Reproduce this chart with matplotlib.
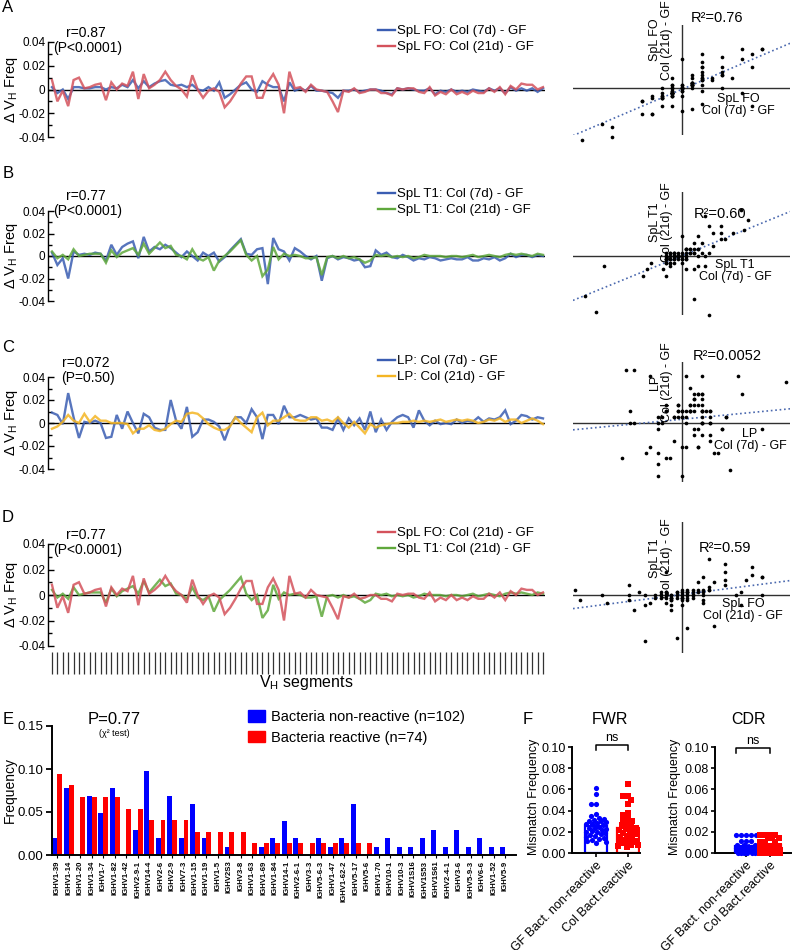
import numpy as np
import matplotlib
matplotlib.use("Agg")
import matplotlib.pyplot as plt
from matplotlib.lines import Line2D
from matplotlib.patches import Patch

plt.rcParams['font.family'] = ['Liberation Sans', 'DejaVu Sans']
plt.rcParams['mathtext.default'] = 'regular'

# ---------------- data: delta VH frequencies (per VH segment) ----------------
fo_7d = [0.002, -0.003, 0.000, -0.008, 0.002, 0.002, 0.001, 0.001, 0.002, 0.002,
         0.000, 0.002, 0.001, 0.004, 0.002, 0.008, 0.001, 0.007, 0.002, 0.005,
         0.007, 0.008, 0.004, 0.003, 0.004, 0.002, 0.004, 0.000, -0.001, 0.002,
         -0.001, 0.006, -0.007, -0.004, 0.000, 0.004, 0.006, 0.000, -0.002, 0.007,
         0.004, 0.002, 0.002, -0.010, 0.006, -0.001, 0.001, -0.001, 0.003, -0.001,
         -0.001, -0.002, -0.003, -0.007, -0.001, -0.001, 0.000, -0.002, -0.001, 0.000,
         0.000, -0.001, -0.003, -0.004, 0.001, 0.000, 0.001, 0.000, -0.001, -0.001,
         0.001, -0.004, -0.001, -0.002, 0.000, -0.002, -0.001, -0.002, 0.000, -0.001,
         -0.002, 0.001, -0.001, 0.001, -0.003, 0.002, -0.001, 0.001, -0.001, 0.001,
         -0.002, 0.001]
fo_21d = [0.008, -0.010, -0.001, -0.014, 0.008, 0.010, 0.001, 0.002, 0.004, 0.005,
          -0.009, 0.006, 0.000, 0.005, 0.003, 0.015, -0.008, 0.013, 0.001, 0.004,
          0.008, 0.015, 0.008, 0.003, 0.000, -0.006, 0.012, 0.000, -0.007, -0.001,
          0.001, -0.002, -0.015, -0.010, -0.003, 0.005, 0.011, 0.011, -0.007, -0.007,
          0.006, 0.013, 0.004, -0.020, 0.015, 0.001, 0.002, -0.002, 0.004, 0.000,
          -0.001, -0.002, -0.010, -0.019, -0.001, -0.002, 0.001, -0.003, -0.002, 0.000,
          0.000, -0.003, -0.003, -0.005, 0.001, 0.000, 0.001, 0.001, -0.002, -0.003,
          0.002, -0.005, -0.002, -0.004, 0.000, -0.004, -0.002, -0.004, -0.001, -0.003,
          -0.003, 0.001, -0.002, 0.002, -0.004, 0.003, 0.000, 0.005, 0.004, 0.004,
          0.000, 0.002]
t1_7d = [0.003, -0.008, -0.002, -0.020, 0.004, 0.001, 0.002, 0.001, 0.003, 0.002,
         -0.004, 0.010, 0.001, 0.008, 0.011, 0.013, -0.002, 0.017, 0.004, 0.008,
         0.006, 0.010, 0.007, 0.003, -0.001, 0.004, 0.000, -0.004, 0.003, 0.000,
         0.003, -0.005, -0.001, 0.005, 0.010, 0.015, 0.002, 0.001, 0.006, 0.007,
         -0.025, 0.016, 0.006, 0.004, -0.004, 0.007, 0.004, 0.000, -0.003, 0.000,
         -0.022, -0.002, 0.000, -0.003, -0.001, -0.002, -0.004, -0.003, -0.010, -0.009,
         0.005, 0.001, 0.003, -0.001, -0.002, 0.001, -0.001, -0.004, -0.002, -0.003,
         -0.001, -0.002, -0.004, -0.003, -0.002, -0.003, -0.003, -0.001, -0.004, -0.004,
         -0.002, -0.003, -0.001, -0.004, -0.002, 0.002, -0.001, 0.001, 0.001, -0.001,
         0.001, 0.000]
t1_21d = [0.004, -0.002, 0.001, -0.003, 0.006, 0.000, 0.001, 0.002, 0.002, 0.002,
          -0.006, 0.005, -0.001, 0.003, 0.005, 0.007, 0.001, 0.011, 0.002, 0.007,
          0.012, 0.007, 0.009, 0.001, 0.000, -0.003, 0.006, -0.002, -0.004, -0.001,
          -0.013, -0.004, 0.000, 0.004, 0.009, 0.014, 0.001, -0.004, 0.000, -0.018,
          -0.012, 0.008, -0.003, 0.002, 0.000, 0.001, 0.000, -0.002, -0.002, -0.001,
          -0.017, -0.001, 0.000, -0.002, 0.000, -0.002, -0.001, -0.003, -0.006, -0.004,
          0.001, 0.000, 0.001, -0.001, 0.000, -0.001, 0.000, -0.002, -0.001, 0.001,
          0.000, 0.000, 0.000, -0.001, 0.000, 0.000, -0.001, 0.000, 0.001, -0.001,
          0.000, 0.001, 0.000, -0.001, 0.001, 0.002, 0.001, 0.002, 0.001, 0.000,
          0.002, 0.001]
lp_7d = [0.009, 0.007, -0.001, 0.026, 0.005, -0.013, 0.001, 0.000, 0.002, 0.000,
         -0.013, -0.012, 0.007, -0.005, 0.010, 0.000, -0.009, 0.008, 0.005, -0.004,
         -0.006, -0.006, 0.020, 0.002, -0.005, 0.014, -0.012, -0.008, 0.003, 0.003,
         0.001, -0.003, -0.015, -0.002, 0.005, 0.005, 0.000, 0.012, 0.005, -0.014,
         0.007, 0.007, -0.001, 0.015, 0.005, 0.005, 0.007, 0.005, 0.003, 0.004,
         -0.004, -0.004, -0.006, 0.004, -0.006, 0.004, -0.002, 0.004, -0.006, 0.010,
         -0.008, 0.003, -0.006, 0.001, 0.005, 0.007, 0.005, -0.004, 0.011, 0.002,
         -0.002, 0.002, -0.001, 0.000, -0.001, 0.003, 0.000, 0.002, 0.001, 0.005,
         0.001, 0.004, 0.003, 0.005, 0.011, -0.001, 0.002, 0.007, 0.006, 0.003,
         0.005, 0.004]
lp_21d = [-0.005, -0.003, 0.001, 0.007, 0.002, 0.000, 0.008, 0.001, 0.006, 0.002,
          0.002, 0.000, 0.000, 0.000, -0.001, -0.009, -0.005, -0.005, -0.002, -0.006,
          -0.007, -0.005, -0.001, 0.002, 0.001, 0.008, 0.009, 0.008, 0.004, -0.001,
          -0.004, -0.006, -0.006, -0.003, 0.005, 0.000, -0.004, -0.008, 0.005, 0.009,
          -0.002, 0.002, 0.002, 0.005, 0.008, 0.003, 0.002, 0.002, 0.005, 0.005,
          0.002, 0.003, 0.001, 0.005, 0.000, -0.004, 0.001, -0.004, -0.009, -0.001,
          -0.004, -0.002, -0.001, 0.000, 0.000, 0.001, 0.001, 0.002, 0.001, 0.002,
          0.001, 0.002, 0.003, 0.001, 0.002, 0.003, 0.002, 0.003, 0.002, 0.000,
          0.001, 0.003, 0.002, 0.004, 0.001, 0.003, 0.003, 0.000, 0.002, 0.004,
          0.002, -0.001]

# ---------------- data: panel E ----------------
genes = ['IGHV1-39', 'IGHV1-14', 'IGHV1-20', 'IGHV1-34', 'IGHV1-7', 'IGHV1-82', 'IGHV1-42',
         'IGHV2-9-1', 'IGHV14-4', 'IGHV2-6', 'IGHV2-9', 'IGHV7-3', 'IGHV1-15', 'IGHV1-19',
         'IGHV1-5', 'IGHV2S3', 'IGHV3-8', 'IGHV1-63', 'IGHV1-69', 'IGHV1-84', 'IGHV14-1',
         'IGHV2-6-1', 'IGHV3-3', 'IGHV5-6-3', 'IGHV1-47', 'IGHV1-62-2', 'IGHV5-17', 'IGHV5-6',
         'IGHV1-70', 'IGHV10-1', 'IGHV10-3', 'IGHV1S16', 'IGHV1S53', 'IGHV1S61', 'IGHV2-4-1',
         'IGHV3-6', 'IGHV5-9-3', 'IGHV6-6', 'IGHV1-52', 'IGHV5-9']
count_nonreactive = [2, 8, 0, 7, 5, 8, 0, 3, 10, 2, 7, 2, 6, 2, 0, 1, 0, 0, 1, 2,
                     4, 2, 0, 2, 1, 2, 6, 0, 1, 2, 1, 1, 2, 3, 1, 3, 1, 2, 1, 1]
count_reactive = [7, 6, 5, 5, 5, 5, 4, 4, 3, 3, 3, 3, 2, 2, 2, 2, 2, 1, 1, 1,
                  1, 1, 1, 1, 1, 1, 1, 1, 0, 0, 0, 0, 0, 0, 0, 0, 0, 0, 0, 0]
n_nonreactive = 102
n_reactive = 74

# ---------------- data: panel F ----------------
fwr_gf_nonreactive = [0.061, 0.056, 0.046, 0.046, 0.037, 0.035, 0.033, 0.032, 0.031, 0.030,
                      0.030, 0.029, 0.028, 0.027, 0.027, 0.026, 0.025, 0.024, 0.024, 0.023,
                      0.022, 0.021, 0.020, 0.020, 0.019, 0.018, 0.017, 0.016, 0.015, 0.014,
                      0.013, 0.012, 0.011, 0.010, 0.009]
fwr_col_reactive = [0.065, 0.054, 0.054, 0.050, 0.046, 0.038, 0.036, 0.033, 0.031, 0.030,
                    0.028, 0.026, 0.025, 0.024, 0.023, 0.022, 0.020, 0.019, 0.018, 0.016,
                    0.015, 0.014, 0.012, 0.011, 0.010, 0.010, 0.010, 0.009, 0.009, 0.008,
                    0.008, 0.007, 0.006]
cdr_gf_nonreactive = [0.017, 0.017, 0.017, 0.017, 0.017, 0.011, 0.011, 0.011, 0.008, 0.008,
                      0.008, 0.006, 0.006, 0.006, 0.006, 0.005, 0.005, 0.005, 0.003, 0.003,
                      0.003, 0.003, 0.003, 0.002, 0.002, 0.002, 0.002, 0.000, 0.000, 0.000,
                      0.000, 0.000, 0.000]
cdr_col_reactive = [0.017, 0.017, 0.017, 0.017, 0.014, 0.014, 0.014, 0.010, 0.010, 0.010,
                    0.007, 0.007, 0.007, 0.005, 0.005, 0.005, 0.005, 0.003, 0.003, 0.003,
                    0.003, 0.000, 0.000, 0.000, 0.000, 0.000, 0.000]
f_groups = ['GF Bact. non-reactive', 'Col Bact.reactive']

# ---------------- figure helpers ----------------
W, H = 792, 950
fig = plt.figure(figsize=(W / 100, H / 100), dpi=100)


def add_ax(l, t, r, b):
    return fig.add_axes([l / W, 1 - b / H, (r - l) / W, (b - t) / H])


def ftext(x, y, s, **kw):
    kw.setdefault('ha', 'center')
    kw.setdefault('va', 'center')
    return fig.text(x / W, 1 - y / H, s, **kw)


BLUE = '#3A5DB2'
RED = '#D4525C'
GREEN = '#5FA83C'
YELLOW = '#F4B523'

# ---------------- line panels A-D ----------------
line_panels = [
    dict(letter='A', ly=8, top=42, bottom=137, s=[fo_7d, fo_21d], c=[BLUE, RED], z=[2, 3],
         labels=['SpL FO: Col (7d) - GF', 'SpL FO: Col (21d) - GF'],
         r='r=0.87', p='(P<0.0001)', ry=33, legy=25),
    dict(letter='B', ly=174, top=211, bottom=301, s=[t1_7d, t1_21d], c=[BLUE, GREEN], z=[2, 3],
         labels=['SpL T1: Col (7d) - GF', 'SpL T1: Col (21d) - GF'],
         r='r=0.77', p='(P<0.0001)', ry=196, legy=188),
    dict(letter='C', ly=348, top=377, bottom=469, s=[lp_7d, lp_21d], c=[BLUE, YELLOW], z=[2, 3],
         labels=['LP: Col (7d) - GF', 'LP: Col (21d) - GF'],
         r='r=0.072', p='(P=0.50)', ry=363, legy=355),
    dict(letter='D', ly=517, top=544, bottom=646, s=[fo_21d, t1_21d], c=[RED, GREEN], z=[3, 2],
         labels=['SpL FO: Col (21d) - GF', 'SpL T1: Col (21d) - GF'],
         r='r=0.77', p='(P<0.0001)', ry=535, legy=527),
]

n_seg = len(fo_7d)
xseg = np.arange(n_seg)
for k, P in enumerate(line_panels):
    ax = add_ax(48, P['top'], 545, P['bottom'])
    ax.axhline(0, color='black', lw=1.0, zorder=1)
    for s, c, z in zip(P['s'], P['c'], P['z']):
        ax.plot(xseg, s, color=c, lw=1.7, alpha=0.85, zorder=z, solid_joinstyle='miter')
    ax.set_xlim(-0.74, n_seg - 1 + 0.37)
    ax.set_ylim(-0.04, 0.04)
    ax.set_yticks([-0.04, -0.02, 0, 0.02, 0.04])
    ax.set_yticklabels(['-0.04', '-0.02', '0', '0.02', '0.04'])
    ax.set_yticks([-0.03, -0.01, 0.01, 0.03], minor=True)
    ax.tick_params(axis='y', which='major', direction='in', length=4, width=1,
                   labelsize=8.5, pad=2)
    ax.tick_params(axis='y', which='minor', direction='in', length=3, width=1)
    for sp in ['top', 'right']:
        ax.spines[sp].set_visible(False)
    ax.spines['left'].set_linewidth(1.0)
    if P['letter'] == 'D':
        ax.set_xticks(xseg)
        ax.tick_params(axis='x', direction='out', length=16, width=0.9,
                       color='#333333', labelbottom=False)
        ax.spines['bottom'].set_position(('outward', 4))
        ax.spines['bottom'].set_visible(False)
    else:
        ax.spines['bottom'].set_visible(False)
        ax.set_xticks([])
    handles = [Line2D([], [], color=c, lw=1.7) for c in P['c']]
    ax.legend(handles, P['labels'], loc='upper left',
              bbox_to_anchor=(378 / W, 1 - P['legy'] / H), bbox_transform=fig.transFigure,
              frameon=False, fontsize=9.5, handlelength=1.3, handletextpad=0.15,
              labelspacing=0.3, borderpad=0, borderaxespad=0)
    ftext(8, P['ly'], P['letter'], fontsize=12)
    ftext(86, P['ry'], P['r'], fontsize=10)
    ftext(88, P['ry'] + 15, P['p'], fontsize=10)
    ftext(11, (P['top'] + P['bottom']) / 2, 'Δ V$_H$ Freq', fontsize=10.5, rotation=90)

ftext(306, 682, 'V$_H$ segments', fontsize=11.5)

# ---------------- scatter panels ----------------
scatter_panels = [
    dict(xs=fo_7d, ys=fo_21d, top=25, bottom=135, zy=88, kx=10000, ky=2600,
         r2='R²=0.76', r2xy=(717, 18), ylab='SpL FO\nCol (21d) - GF', ylxy=(661, 40),
         xlab='SpL FO\nCol (7d) - GF', xlxy=(738, 105)),
    dict(xs=t1_7d, ys=t1_21d, top=192, bottom=315, zy=256, kx=3900, ky=3300,
         r2='R²=0.60', r2xy=(720, 214), ylab='SpL T1\nCol (21d) - GF', ylxy=(661, 222),
         xlab='SpL T1\nCol (7d) - GF', xlxy=(735, 271)),
    dict(xs=lp_7d, ys=lp_21d, top=362, bottom=482, zy=423, kx=4000, ky=5900,
         r2='R²=0.0052', r2xy=(727, 356), ylab='LP\nCol (21d) - GF', ylxy=(661, 382),
         xlab='LP\nCol (7d) - GF', xlxy=(750, 440)),
    dict(xs=fo_21d, ys=t1_21d, top=522, bottom=653, zy=595, kx=5350, ky=2550,
         r2='R²=0.59', r2xy=(725, 548), ylab='SpL T1\nCol (21d) - GF', ylxy=(661, 558),
         xlab='SpL FO\nCol (21d) - GF', xlxy=(743, 610)),
]
XL, XZ, XR = 573, 682, 790
for S in scatter_panels:
    ax = add_ax(XL, S['top'], XR, S['bottom'])
    xlim = (-(XZ - XL) / S['kx'], (XR - XZ) / S['kx'])
    ylim = (-(S['bottom'] - S['zy']) / S['ky'], (S['zy'] - S['top']) / S['ky'])
    ax.set_xlim(xlim)
    ax.set_ylim(ylim)
    ax.axis('off')
    ax.axhline(0, color='#303030', lw=1.0, zorder=1)
    ax.axvline(0, color='#303030', lw=1.0, zorder=1)
    xs = np.array(S['xs'])
    ys = np.array(S['ys'])
    slope, icpt = np.polyfit(xs, ys, 1)
    xx = np.array(xlim)
    ax.plot(xx, slope * xx + icpt, ls=':', color='#4A68AE', lw=1.2, zorder=2)
    ax.scatter(xs, ys, s=7, color='black', zorder=3, clip_on=False, linewidths=0)
    ftext(*S['r2xy'], S['r2'], fontsize=10.5)
    ftext(*S['ylxy'], S['ylab'], fontsize=9, rotation=90, multialignment='center',
          linespacing=1.1)
    ftext(*S['xlxy'], S['xlab'], fontsize=9, multialignment='center', linespacing=1.1)

# ---------------- panel E ----------------
axE = add_ax(52, 726, 516, 855)
freq_non = np.array(count_nonreactive) / n_nonreactive
freq_rea = np.array(count_reactive) / n_reactive
xg = np.arange(len(genes))
bw = 0.43
axE.bar(xg - bw / 2, freq_non, width=bw, color='#0000FF', linewidth=0)
axE.bar(xg + bw / 2, freq_rea, width=bw, color='#FF0000', linewidth=0)
axE.set_xlim(-0.45, 39.95)
axE.set_ylim(0, 0.15)
axE.set_yticks([0, 0.05, 0.10, 0.15])
axE.set_yticklabels(['0.00', '0.05', '0.10', '0.15'])
axE.set_xticks(xg)
axE.set_xticklabels(genes, rotation=90, fontsize=5.6, fontweight='bold')
axE.tick_params(axis='y', direction='out', length=4, width=1.3, labelsize=9.5, pad=2)
axE.tick_params(axis='x', direction='out', length=2, width=0.8, pad=2)
for sp in ['top', 'right']:
    axE.spines[sp].set_visible(False)
for sp in ['left', 'bottom']:
    axE.spines[sp].set_linewidth(1.4)
axE.legend([Patch(color='#0000FF'), Patch(color='#FF0000')],
           ['Bacteria non-reactive (n=102)', 'Bacteria reactive (n=74)'],
           loc='upper left', bbox_to_anchor=(248 / W, 1 - 710 / H),
           bbox_transform=fig.transFigure, frameon=False, fontsize=10.5,
           handlelength=1.15, handleheight=0.85, handletextpad=0.45,
           labelspacing=0.45, borderpad=0, borderaxespad=0)
ftext(8, 719, 'E', fontsize=12)
ftext(114, 719, 'P=0.77', fontsize=12)
ftext(114, 734, '(χ² test)', fontsize=6.5)
ftext(10, 790, 'Frequency', fontsize=10, rotation=90)

# ---------------- panel F ----------------
F_KY = 1060.0


def swarm_offsets(vals, kx, ky, diam=5.0, maxoff=10.0):
    pts, out = [], []
    cands = [0.0]
    step = 1.0
    while step <= maxoff:
        cands += [-step, step]
        step += 1.0
    for v in vals:
        yp = v * ky
        best, best_d = 0.0, -1.0
        for c in cands:
            d = min([np.hypot(c - px, yp - py) for px, py in pts] or [1e9])
            if d >= diam:
                best = c
                break
            if d > best_d:
                best, best_d = c, d
        pts.append((best, yp))
        out.append(best / kx)
    return np.array(out)


f_panels = [
    dict(title='FWR', l=572, r=640, c0=596, c1=628, vals=[fwr_gf_nonreactive, fwr_col_reactive],
         ylab_x=534, title_x=610, br=(0.0, 1.0), br_y=745, ns_y=738),
    dict(title='CDR', l=715, r=791, c0=746, c1=770, vals=[cdr_gf_nonreactive, cdr_col_reactive],
         ylab_x=675, title_x=748, br=(-0.4, 1.0), br_y=748, ns_y=741),
]
FT, FB = 747, 853
for Fp in f_panels:
    ax = add_ax(Fp['l'], FT, Fp['r'], FB)
    kx = Fp['c1'] - Fp['c0']
    ax.set_xlim(-(Fp['c0'] - Fp['l']) / kx, 1 + (Fp['r'] - Fp['c1']) / kx)
    ax.set_ylim(0, 0.10)
    bwid = 21.5 / kx
    for i, (vals, col, mk) in enumerate(zip(Fp['vals'], ['#0000FF', '#FF0000'], ['o', 's'])):
        v = np.array(vals)
        m = v.mean()
        sem = v.std(ddof=1) / np.sqrt(len(v))
        ax.bar(i, m, width=bwid, facecolor='white', edgecolor=col, linewidth=1.6, zorder=1)
        offs = swarm_offsets(v, kx, F_KY, diam=5.0, maxoff=10.0)
        ax.scatter(i + offs, v, s=14, marker=mk, color=col, zorder=3, linewidths=0,
                   clip_on=False)
        ax.errorbar(i, m, yerr=sem, color=col, capsize=3, lw=1.2, capthick=1.2, zorder=4)
    ax.set_yticks([0, 0.02, 0.04, 0.06, 0.08, 0.10])
    ax.set_yticklabels(['0.00', '0.02', '0.04', '0.06', '0.08', '0.10'])
    ax.set_xticks([0, 1])
    ax.set_xticklabels(f_groups, rotation=45, ha='right', va='top',
                       rotation_mode='anchor', fontsize=9)
    ax.tick_params(axis='y', direction='out', length=3, width=1.2, labelsize=9, pad=1.5)
    ax.tick_params(axis='x', direction='out', length=3, width=1.2, pad=2)
    for sp in ['top', 'right']:
        ax.spines[sp].set_visible(False)
    for sp in ['left', 'bottom']:
        ax.spines[sp].set_linewidth(1.4)
    # significance bracket
    by = (FB - Fp['br_y']) / F_KY
    bt = by - 5 / F_KY
    x0, x1 = Fp['br']
    ax.plot([x0, x0, x1, x1], [bt, by, by, bt], color='black', lw=1.1, clip_on=False)
    ax.text((x0 + x1) / 2, (FB - Fp['ns_y']) / F_KY, 'ns', ha='center', va='center',
            fontsize=9)
    ftext(Fp['title_x'], 720, Fp['title'], fontsize=11.5)
    ftext(Fp['ylab_x'], 797, 'Mismatch Frequency', fontsize=9, rotation=90)

ftext(528, 719, 'F', fontsize=12)

fig.savefig('out.png', dpi=100)
